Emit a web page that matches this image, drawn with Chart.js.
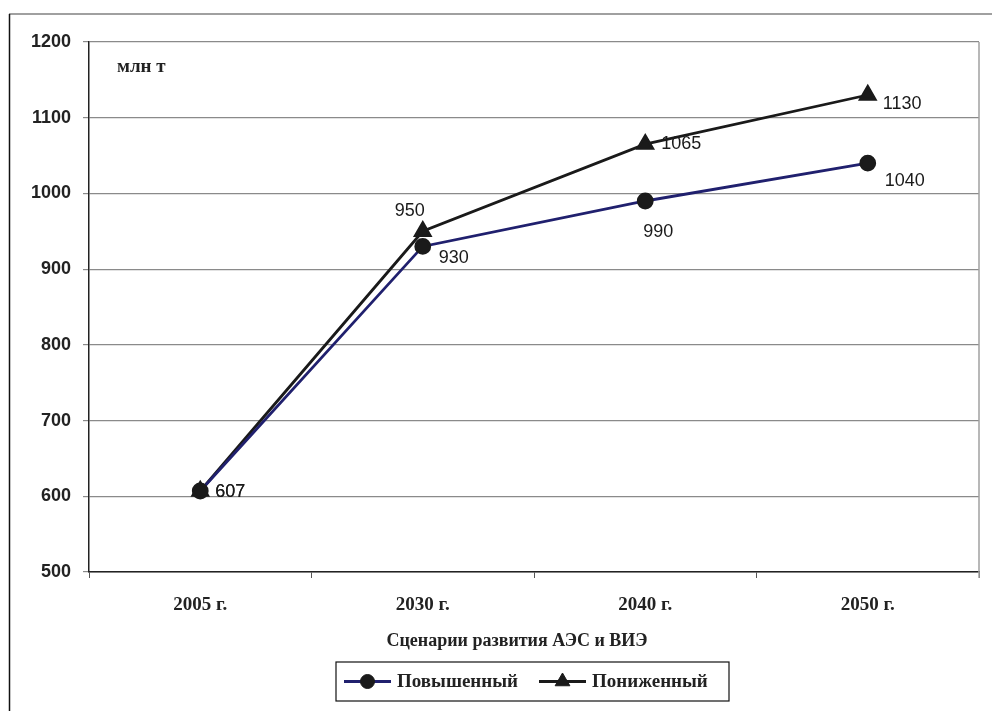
<!DOCTYPE html>
<html>
<head>
<meta charset="utf-8">
<script src="https://cdn.jsdelivr.net/npm/chart.js@4"></script>
<style>
    html, body { margin: 0; padding: 0; background: #fff; }
    #wrap { width: 992px; height: 711px; position: relative; }
</style>
</head>
<body>
<div id="wrap"><canvas id="chart"></canvas></div>
<script>
const years = ["2005 г.", "2030 г.", "2040 г.", "2050 г."];

const highValues = [607, 930, 990, 1040];
const lowValues = [607, 950, 1065, 1130];

const highLabel = "Повышенный";
const lowLabel = "Пониженный";

const yTicks = [500, 600, 700, 800, 900, 1000, 1100, 1200];

const unitText = "млн т";
const axisTitle = "Сценарии развития АЭС и ВИЭ";

// where each value label sits relative to its point (dx to text start, dy to text middle)
const labelShift = [
    [[15, 1], [16, 12], [-2, 31], [17, 18]],
    [[15, 1], [-28, -20], [16, 0], [15, 9]]
];

const serif = "'Liberation Serif', 'Times New Roman', serif";
const sans = "'Liberation Sans', Arial, sans-serif";

const decorPlugin = {
    id: "decor",
    beforeDraw(chart) {
        const ctx = chart.ctx;
        ctx.save();
        ctx.fillStyle = "#fff";
        ctx.fillRect(0, 0, chart.width, chart.height);
        // outer frame, top and left only
        ctx.strokeStyle = "#808080";
        ctx.lineWidth = 1.5;
        ctx.beginPath();
        ctx.moveTo(9, 14);
        ctx.lineTo(chart.width, 14);
        ctx.stroke();
        ctx.strokeStyle = "#111";
        ctx.beginPath();
        ctx.moveTo(9.5, 14);
        ctx.lineTo(9.5, chart.height);
        ctx.stroke();
        ctx.restore();
    },
    afterDatasetsDraw(chart) {
        const ctx = chart.ctx;
        const a = chart.chartArea;
        ctx.save();

        // right edge of plot area
        ctx.strokeStyle = "#a0a0a0";
        ctx.lineWidth = 1.5;
        ctx.beginPath();
        ctx.moveTo(a.right, a.top);
        ctx.lineTo(a.right, a.bottom + 6);
        ctx.stroke();

        // value labels
        ctx.fillStyle = "#1a1a1a";
        ctx.font = "18px " + sans;
        ctx.textBaseline = "middle";
        ctx.textAlign = "left";
        chart.data.datasets.forEach((ds, i) => {
            const meta = chart.getDatasetMeta(i);
            meta.data.forEach((pt, j) => {
                const s = labelShift[i][j];
                ctx.fillText(String(ds.data[j]), pt.x + s[0], pt.y + s[1]);
            });
        });

        // unit label
        ctx.fillStyle = "#222";
        ctx.font = "bold 19px " + serif;
        ctx.fillText(unitText, 117, 67);

        // x axis title
        ctx.textAlign = "center";
        ctx.font = "bold 18px " + serif;
        ctx.fillText(axisTitle, 517, 641);

        // legend box
        const lx = 336, ly = 662, lw = 393, lh = 39;
        ctx.strokeStyle = "#111";
        ctx.lineWidth = 1.2;
        ctx.strokeRect(lx, ly, lw, lh);
        const cy = ly + lh / 2;
        const items = [
            { x: 344, text: 397, ds: chart.data.datasets[0] },
            { x: 539, text: 592, ds: chart.data.datasets[1] }
        ];
        ctx.textAlign = "left";
        ctx.font = "bold 19px " + serif;
        items.forEach(it => {
            ctx.strokeStyle = it.ds.borderColor;
            ctx.lineWidth = 3;
            ctx.beginPath();
            ctx.moveTo(it.x, cy);
            ctx.lineTo(it.x + 47, cy);
            ctx.stroke();
            ctx.fillStyle = it.ds.pointBackgroundColor;
            ctx.strokeStyle = it.ds.pointBorderColor;
            ctx.lineWidth = 1;
            Chart.helpers.drawPoint(ctx, {
                pointStyle: it.ds.pointStyle,
                radius: it.ds.pointRadius,
                borderWidth: 1
            }, it.x + 23.5, cy);
            ctx.fillStyle = "#222";
            ctx.fillText(it.ds.label, it.text, cy + 1);
        });

        ctx.restore();
    }
};

Chart.defaults.font.family = sans;

new Chart(document.getElementById("chart"), {
    type: "line",
    data: {
        labels: years,
        datasets: [
            {
                label: highLabel,
                data: highValues,
                borderColor: "#20206e",
                borderWidth: 2.8,
                pointStyle: "circle",
                pointRadius: 7,
                pointBackgroundColor: "#1a1a1a",
                pointBorderColor: "#1a1a1a",
                tension: 0
            },
            {
                label: lowLabel,
                data: lowValues,
                borderColor: "#1a1a1a",
                borderWidth: 2.8,
                pointStyle: "triangle",
                pointRadius: 8.5,
                pointBackgroundColor: "#1a1a1a",
                pointBorderColor: "#1a1a1a",
                tension: 0
            }
        ]
    },
    options: {
        responsive: true,
        maintainAspectRatio: false,
        animation: false,
        layout: {
            padding: { left: 10, top: 42, right: 13, bottom: 0 }
        },
        plugins: {
            legend: { display: false },
            tooltip: { enabled: false }
        },
        scales: {
            x: {
                offset: true,
                grid: {
                    offset: true,
                    drawOnChartArea: false,
                    tickLength: 6,
                    color: "#555"
                },
                border: { color: "#222", width: 1.5 },
                ticks: {
                    color: "#222",
                    padding: 16,
                    font: { family: serif, size: 19, weight: "bold" }
                },
                afterFit(scale) {
                    scale.height = 139;
                }
            },
            y: {
                min: 500,
                max: 1200,
                afterBuildTicks(scale) {
                    scale.ticks = yTicks.map(v => ({ value: v }));
                },
                grid: {
                    color: "#8a8a8a",
                    lineWidth: 1.2,
                    tickLength: 6
                },
                border: { color: "#222", width: 1.5 },
                ticks: {
                    color: "#222",
                    padding: 12,
                    font: { family: sans, size: 18, weight: "bold" },
                    callback: v => String(v)
                },
                afterFit(scale) {
                    scale.width = 79;
                }
            }
        }
    },
    plugins: [decorPlugin]
});
</script>
</body>
</html>
